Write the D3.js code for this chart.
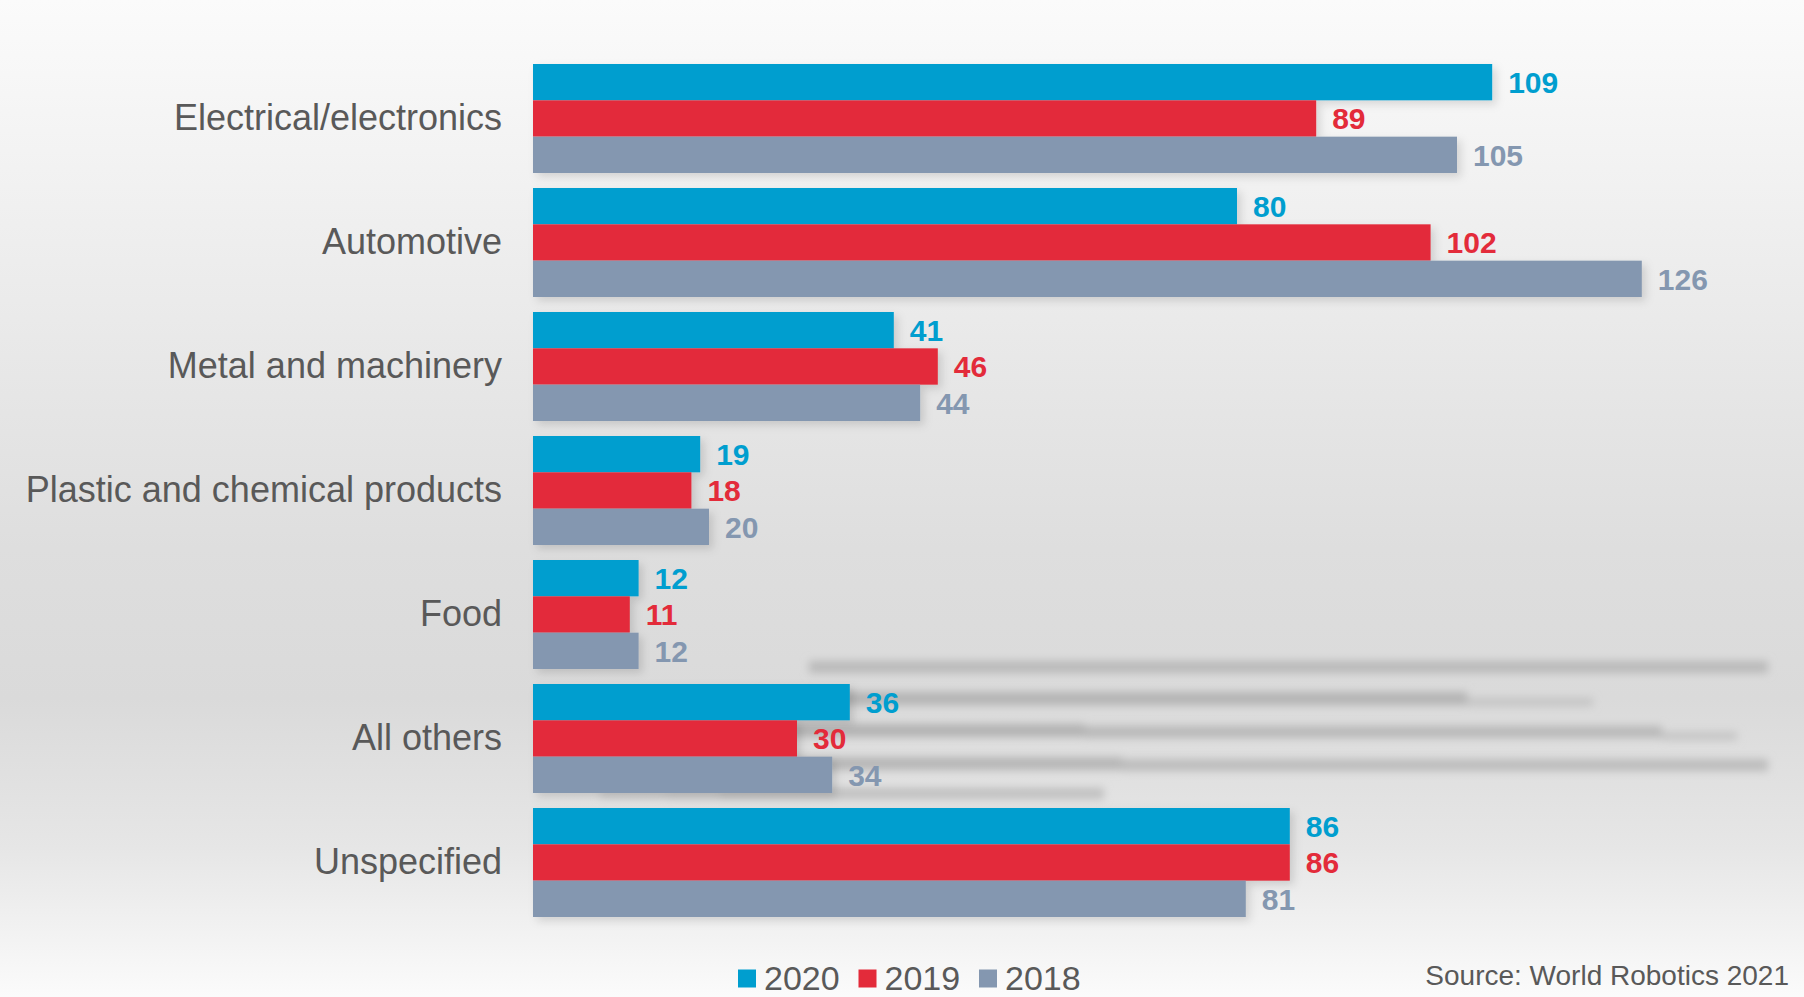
<!DOCTYPE html>
<html>
<head>
<meta charset="utf-8">
<script src="https://cdn.jsdelivr.net/npm/d3@7"></script>
<style>
  html, body { margin: 0; padding: 0; background: #ffffff; }
  svg { display: block; }
</style>
</head>
<body>
<svg id="chart" width="1804" height="997"></svg>
<script>
// Robot installations by customer industry (thousands of units)
const categories = [
  "Electrical/electronics",
  "Automotive",
  "Metal and machinery",
  "Plastic and chemical products",
  "Food",
  "All others",
  "Unspecified"
];
const seriesNames = ["2020", "2019", "2018"];
const values2020 = [109, 80, 41, 19, 12, 36, 86];
const values2019 = [89, 102, 46, 18, 11, 30, 86];
const values2018 = [105, 126, 44, 20, 12, 34, 81];
const seriesColors = ["#009ecf", "#e32b3a", "#8497b0"];
const sourceText = "Source: World Robotics 2021";

const W = 1804, H = 997;
const svg = d3.select("#chart");
const defs = svg.append("defs");

// soft grey backdrop, darkest around the lower-middle
const bg = defs.append("linearGradient")
  .attr("id", "bg").attr("x1", 0).attr("y1", 0).attr("x2", 0).attr("y2", 1);
[[0, "#fbfbfb"], [0.3, "#ebebeb"], [0.55, "#dedede"], [0.7, "#dadada"],
 [0.85, "#e6e6e6"], [1, "#fbfbfb"]].forEach(([o, c]) =>
  bg.append("stop").attr("offset", o).attr("stop-color", c));
svg.append("rect").attr("width", W).attr("height", H).attr("fill", "url(#bg)");

const haze = defs.append("filter").attr("id", "haze")
  .attr("x", "-10%").attr("y", "-300%").attr("width", "120%").attr("height", "700%");
haze.append("feGaussianBlur").attr("stdDeviation", 4.5);

const shadow = defs.append("filter").attr("id", "shadow")
  .attr("x", "-5%").attr("y", "-20%").attr("width", "115%").attr("height", "160%");
shadow.append("feDropShadow").attr("dx", 4).attr("dy", 4).attr("stdDeviation", 4)
  .attr("flood-color", "#000").attr("flood-opacity", 0.13);

// faint smeared streaks behind the lower groups
const streaks = [
  {x: 809, y: 661, w: 959, h: 12, c: "#b9b9b9"},
  {x: 760, y: 692, w: 707, h: 13, c: "#b4b4b4"},
  {x: 1467, y: 698, w: 126, h: 8, c: "#c3c3c3"},
  {x: 760, y: 724, w: 325, h: 13, c: "#b2b2b2"},
  {x: 1085, y: 726, w: 577, h: 12, c: "#b8b8b8"},
  {x: 1662, y: 732, w: 75, h: 8, c: "#c3c3c3"},
  {x: 760, y: 757, w: 362, h: 13, c: "#b6b6b6"},
  {x: 1122, y: 759, w: 646, h: 12, c: "#bcbcbc"},
  {x: 667, y: 788, w: 437, h: 11, c: "#bfbfbf"},
  {x: 600, y: 790, w: 120, h: 8, c: "#cacaca"}
];
svg.append("g").attr("filter", "url(#haze)")
  .selectAll("rect").data(streaks).join("rect")
  .attr("x", d => d.x).attr("y", d => d.y)
  .attr("width", d => d.w).attr("height", d => d.h)
  .attr("fill", d => d.c);

const data = categories.map((cat, i) => ({
  cat,
  vals: [values2020[i], values2019[i], values2018[i]]
}));

const x = d3.scaleLinear().domain([0, 126]).range([533, 533 + 126 * 8.8]);
const y0 = d3.scaleBand().domain(categories).range([64, 917]).paddingInner(0.121).paddingOuter(0);
const y1 = d3.scaleBand().domain(seriesNames).range([0, y0.bandwidth()]);

const groups = svg.append("g").selectAll("g.grp").data(data).join("g")
  .attr("class", "grp")
  .attr("transform", d => `translate(0,${y0(d.cat)})`);

groups.append("g").attr("filter", "url(#shadow)")
  .selectAll("rect").data(d => d.vals.map((v, k) => ({v, k}))).join("rect")
  .attr("x", x(0))
  .attr("y", d => y1(seriesNames[d.k]))
  .attr("width", d => x(d.v) - x(0))
  .attr("height", y1.bandwidth())
  .attr("fill", d => seriesColors[d.k]);

groups.selectAll("text.val").data(d => d.vals.map((v, k) => ({v, k}))).join("text")
  .attr("class", "val")
  .attr("x", d => x(d.v) + 16)
  .attr("y", d => y1(seriesNames[d.k]) + y1.bandwidth() / 2)
  .attr("dy", "0.36em")
  .attr("font-family", "Liberation Sans, Arial, sans-serif")
  .attr("font-weight", "bold")
  .attr("font-size", 30)
  .attr("fill", d => seriesColors[d.k])
  .text(d => d.v);

// category axis
const yAxis = svg.append("g")
  .attr("transform", `translate(${x(0)},0)`)
  .call(d3.axisLeft(y0).tickSize(0).tickPadding(31));
yAxis.select(".domain").remove();
yAxis.selectAll("text")
  .attr("font-family", "Liberation Sans, Arial, sans-serif")
  .attr("font-size", 36)
  .attr("fill", "#595959");

// legend
const legend = svg.append("g").attr("transform", "translate(738,0)");
const items = legend.selectAll("g").data(seriesNames).join("g")
  .attr("transform", (d, i) => `translate(${i * 120.5},0)`);
items.append("rect").attr("x", 0).attr("y", 969.5).attr("width", 18).attr("height", 18)
  .attr("fill", (d, i) => seriesColors[i]);
items.append("text").attr("x", 26).attr("y", 989.5)
  .attr("font-family", "Liberation Sans, Arial, sans-serif")
  .attr("font-size", 34).attr("fill", "#595959")
  .text(d => d);

svg.append("text").attr("x", 1789).attr("y", 985).attr("text-anchor", "end")
  .attr("font-family", "Liberation Sans, Arial, sans-serif")
  .attr("font-size", 28).attr("fill", "#595959")
  .text(sourceText);
</script>
</body>
</html>
